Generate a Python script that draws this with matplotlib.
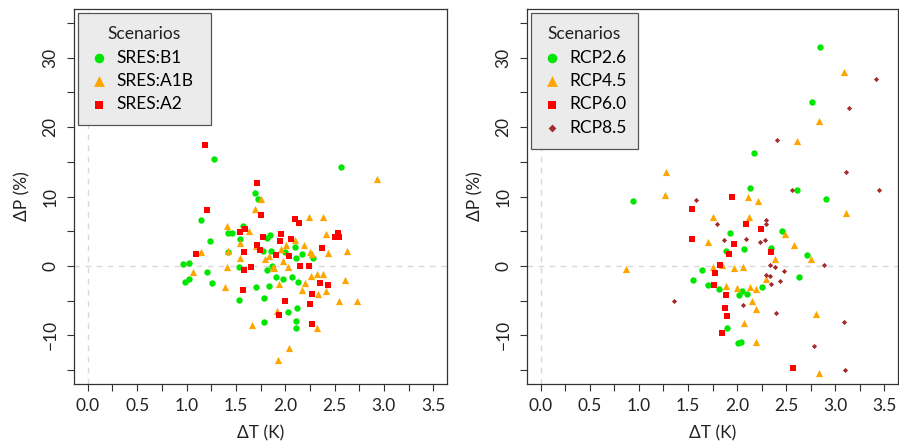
import matplotlib
matplotlib.use("Agg")
import matplotlib.pyplot as plt
from matplotlib.ticker import MultipleLocator

plt.rcParams['font.family'] = ['Lato', 'DejaVu Sans']

# --- left panel: SRES scenarios (dT in K, dP in %) ---
b1_dt = [0.96, 1.03, 0.98, 1.03, 1.21, 1.15, 1.24, 1.26, 1.28, 1.42, 1.46, 1.42,
         1.57, 1.54, 1.53, 1.53, 1.70, 1.69, 1.72, 1.78, 1.79, 1.79, 1.82, 1.85,
         1.86, 1.82, 1.87, 1.84, 1.91, 1.98, 2.00, 2.03, 2.07, 2.10, 2.11, 2.13,
         2.12, 2.11, 2.11, 2.17, 2.28, 2.57]
b1_dp = [0.3, 0.4, -2.3, -1.8, -0.8, 6.6, 3.6, -2.4, 15.4, 4.8, 4.7, 2.0,
         5.7, 3.9, -0.1, -4.9, -3.0, 10.5, 9.6, 2.2, -4.6, -8.1, 4.0, 4.5,
         2.2, -0.6, 0.0, -2.9, -1.6, -1.9, 2.0, -6.6, -1.6, 2.7, 1.1, -2.3,
         -6.1, -7.9, -8.9, 1.7, 1.1, 14.2]

a1b_dt = [1.07, 1.15, 1.39, 1.41, 1.42, 1.41, 1.54, 1.54, 1.63, 1.66, 1.69, 1.75,
          1.70, 1.80, 1.84, 1.88, 1.89, 1.94, 1.92, 1.93, 1.96, 1.98, 2.01, 2.03,
          2.04, 2.10, 2.19, 2.17, 2.20, 2.24, 2.25, 2.27, 2.26, 2.32, 2.33, 2.32,
          2.38, 2.38, 2.41, 2.43, 2.41, 2.61, 2.63, 2.55, 2.73, 2.93]
a1b_dp = [-0.8, 2.0, -3.0, 5.7, 2.2, -0.1, 3.3, 1.1, 5.1, -8.5, 8.2, 9.6,
          2.9, 1.0, 1.4, -0.1, -0.3, -2.6, -6.5, -13.6, 2.5, 0.7, 3.0, -0.1,
          -11.8, 3.7, 3.0, -3.4, -2.4, 7.1, 2.0, 1.7, -1.5, -1.2, -4.1, -9.0,
          7.0, -1.2, 4.6, 1.9, -3.6, -2.0, 2.1, -5.1, -5.0, 12.5]

a2_dt = [1.19, 1.21, 1.10, 1.54, 1.59, 1.58, 1.58, 1.57, 1.65, 1.71, 1.75, 1.77,
         1.71, 1.74, 1.91, 1.95, 1.96, 2.06, 2.04, 2.10, 2.14, 2.15, 2.24, 2.00,
         1.94, 2.25, 2.27, 2.27, 2.35, 2.43, 2.37, 2.50, 2.53, 2.55]
a2_dp = [17.5, 8.0, 1.7, 4.9, 5.3, 2.0, -0.6, -3.4, -0.2, 11.9, 7.3, 4.2,
         3.0, 2.3, 1.6, 3.6, 4.6, 3.9, 1.4, 6.8, 6.2, 0.0, 0.0, -5.0,
         -7.0, -5.5, -4.0, -8.4, -2.5, -2.8, 2.6, 4.2, 4.7, 4.2]

# --- right panel: RCP scenarios ---
rcp26_dt = [0.94, 2.84, 2.76, 2.17, 2.13, 2.61, 2.91, 1.93, 2.46, 1.89, 2.07, 2.35,
            2.71, 2.63, 1.64, 1.55, 1.70, 1.82, 2.05, 2.02, 2.10, 2.25, 1.90, 2.01,
            2.04]
rcp26_dp = [9.4, 31.5, 23.6, 16.3, 11.3, 11.0, 9.6, 4.7, 5.1, 2.1, 2.4, 2.6,
            1.6, -1.6, -0.6, -2.0, -2.8, -3.3, -3.6, -4.2, -4.1, -3.0, -8.9, -11.1,
            -11.0]

rcp45_dt = [0.87, 1.27, 1.28, 1.75, 1.70, 1.75, 1.85, 1.97, 2.06, 1.89, 2.00, 2.13,
            2.19, 2.15, 2.19, 2.07, 2.19, 2.83, 2.80, 2.12, 2.11, 2.21, 2.49, 2.58,
            2.39, 2.75, 2.61, 2.83, 3.09, 3.11, 2.29]
rcp45_dp = [-0.5, 10.3, 13.6, 7.0, 3.5, -0.2, 0.2, -0.3, -0.1, -2.9, -3.1, -3.0,
            -3.3, -5.1, -6.2, -8.2, -11.0, -15.4, -6.9, 7.1, 10.0, 9.3, 4.6, 3.0,
            1.0, 1.0, 18.0, 20.9, 28.0, 7.6, -1.9]

rcp60_dt = [1.54, 1.54, 1.95, 2.09, 2.24, 1.97, 1.92, 2.35, 1.83, 1.77, 1.76, 1.89,
            1.88, 1.90, 1.85, 2.57]
rcp60_dp = [8.2, 3.9, 10.0, 6.0, 5.4, 3.2, 1.7, 2.0, 0.1, -1.0, -2.8, -4.2,
            -6.0, -7.2, -9.6, -14.7]

rcp85_dt = [1.58, 1.80, 1.87, 2.09, 2.29, 2.29, 2.28, 2.23, 2.41, 2.56, 3.11, 3.14,
            3.41, 3.45, 2.89, 2.34, 2.39, 2.48, 2.29, 2.34, 2.35, 2.44, 2.06, 2.40,
            1.36, 3.09, 2.78, 3.10]
rcp85_dp = [9.5, 6.1, 3.8, 3.9, 6.6, 6.1, 3.8, 3.5, 18.1, 10.9, 13.6, 22.7,
            27.0, 11.0, 0.1, 0.2, -0.2, -0.7, -1.3, -1.4, -2.6, -2.1, -5.6, -6.7,
            -5.0, -8.0, -11.5, -15.0]

left_series = [
    ("SRES:B1", b1_dt, b1_dp, "#00E600", "o", 21),
    ("SRES:A1B", a1b_dt, a1b_dp, "#FFA500", "^", 27),
    ("SRES:A2", a2_dt, a2_dp, "#FF0000", "s", 17),
]
right_series = [
    ("RCP2.6", rcp26_dt, rcp26_dp, "#00E600", "o", 21),
    ("RCP4.5", rcp45_dt, rcp45_dp, "#FFA500", "^", 27),
    ("RCP6.0", rcp60_dt, rcp60_dp, "#FF0000", "s", 17),
    ("RCP8.5", rcp85_dt, rcp85_dp, "#A52A2A", "D", 7),
]

fig = plt.figure(figsize=(8.99, 4.42), dpi=100)
ax1 = fig.add_axes([0.0823, 0.1312, 0.415, 0.848])
ax2 = fig.add_axes([0.5862, 0.1312, 0.4128, 0.848])

# legend width in axes fraction (R legend boxes are wider than their text)
for ax, series, legw in [(ax1, left_series, 0.357), (ax2, right_series, 0.29)]:
    ax.axhline(0, color="#d8d8d8", lw=1, ls=(0, (4, 4)), zorder=0)
    ax.axvline(0, color="#d8d8d8", lw=1, ls=(0, (4, 4)), zorder=0)
    for name, dt, dp, col, mk, s in series:
        ax.scatter(dt, dp, s=s, c=col, marker=mk, linewidths=0, label=name, zorder=3)
    ax.set_xlim(-0.14, 3.64)
    ax.set_ylim(-17, 37)
    ax.xaxis.set_minor_locator(MultipleLocator(0.25))
    ax.yaxis.set_minor_locator(MultipleLocator(5))
    ax.set_xticks([0, 0.5, 1.0, 1.5, 2.0, 2.5, 3.0, 3.5])
    ax.set_xticklabels(["0.0", "0.5", "1.0", "1.5", "2.0", "2.5", "3.0", "3.5"])
    ax.set_yticks([-10, 0, 10, 20, 30])
    ax.set_yticklabels(["\u221210", "0", "10", "20", "30"], rotation=90, va="center")
    ax.tick_params(which="both", direction="out", length=5, width=0.8,
                   color="#333333", labelsize=12.5, labelcolor="#222222")
    ax.tick_params(axis="x", pad=5)
    ax.tick_params(axis="y", pad=6)
    for sp in ax.spines.values():
        sp.set_color("#333333")
        sp.set_linewidth(0.9)
    ax.set_xlabel("\u0394T (K)", fontsize=12.5, color="#222222", labelpad=8)
    ax.set_ylabel("\u0394P (%)", fontsize=12.5, color="#222222", labelpad=9)
    leg = ax.legend(title="Scenarios", loc="upper left",
                    bbox_to_anchor=(0.01, 0.5, legw, 0.489), mode="expand",
                    borderaxespad=0, fontsize=12.5, title_fontsize=12.5,
                    fancybox=False, framealpha=1, facecolor="#EBEBEB",
                    edgecolor="#555555", handletextpad=0.55, borderpad=0.75,
                    labelspacing=0.42, handlelength=0.9, scatterpoints=1,
                    markerscale=1.5)
    leg.get_frame().set_linewidth(0.9)
    leg.get_title().set_color("#222222")

fig.savefig("out.png", dpi=100)
